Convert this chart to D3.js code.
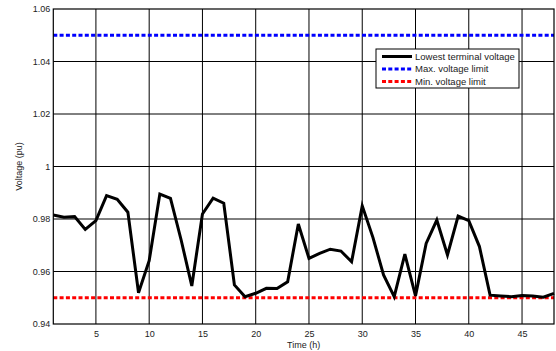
<!DOCTYPE html>
<html><head><meta charset="utf-8">
<script src="https://cdn.jsdelivr.net/npm/d3@7"></script>
<style>body{margin:0;background:#fff}svg{display:block}text{font-family:"Liberation Sans",Arial,sans-serif;fill:#222}</style>
</head><body><svg id="c" width="556" height="351"></svg>
<script>
const hours = d3.range(1, 49);
const lowestVoltage = [0.9815,0.9807,0.9809,0.9760,0.9794,0.9889,0.9875,0.9826,0.9519,0.9641,
0.9895,0.9879,0.9720,0.9545,0.9819,0.9879,0.9860,0.9549,0.9504,0.9517,
0.9536,0.9535,0.9561,0.9781,0.9650,0.9669,0.9685,0.9678,0.9637,0.9850,
0.9730,0.9587,0.9504,0.9666,0.9507,0.9707,0.9796,0.9663,0.9811,0.9794,
0.9695,0.9510,0.9507,0.9504,0.9509,0.9507,0.9502,0.9517];
const maxLimit = 1.05, minLimit = 0.95;
const xTicks = [5,10,15,20,25,30,35,40,45];
const yTicks = [0.94,0.96,0.98,1,1.02,1.04,1.06];
const legendLabels = ["Lowest terminal voltage","Max. voltage limit","Min. voltage limit"];

const svg = d3.select("#c");
const L=53.3, R=554, T=9, B=324;
const x = d3.scaleLinear().domain([1,48]).range([L,R]);
const y = d3.scaleLinear().domain([0.94,1.06]).range([B,T]);

const g = svg.append("g");
g.selectAll(".gx").data(xTicks).join("line").attr("x1",d=>x(d)).attr("x2",d=>x(d)).attr("y1",T).attr("y2",B).attr("stroke","#000").attr("stroke-width",1);
g.selectAll(".gy").data(yTicks.slice(1,-1)).join("line").attr("y1",d=>y(d)).attr("y2",d=>y(d)).attr("x1",L).attr("x2",R).attr("stroke","#000").attr("stroke-width",1);

const xa = svg.append("g").attr("transform",`translate(0,${B})`).call(d3.axisBottom(x).tickValues(xTicks).tickSize(0).tickPadding(7).tickFormat(d3.format("d")));
const ya = svg.append("g").attr("transform",`translate(${L},0)`).call(d3.axisLeft(y).tickValues(yTicks).tickSize(0).tickPadding(3).tickFormat(d=>d===1?"1":d3.format(".2f")(d)));
[xa,ya].forEach(a=>{a.select(".domain").remove();a.selectAll("text").style("font-size","9px").style("font-family","Liberation Sans, Arial, sans-serif").attr("fill","#222");});

const lim = [{v:maxLimit,c:"#0000ff"},{v:minLimit,c:"#ff0000"}];
svg.selectAll(".lim").data(lim).join("line").attr("x1",L).attr("x2",R).attr("y1",d=>y(d.v)).attr("y2",d=>y(d.v)).attr("stroke",d=>d.c).attr("stroke-width",3).attr("stroke-dasharray","4,2.3");

svg.append("path").datum(hours.map((h,i)=>[h,lowestVoltage[i]])).attr("d",d3.line().x(d=>x(d[0])).y(d=>y(d[1]))).attr("fill","none").attr("stroke","#000").attr("stroke-width",3).attr("stroke-linejoin","miter");

svg.append("rect").attr("x",L).attr("y",T).attr("width",R-L).attr("height",B-T).attr("fill","none").attr("stroke","#000").attr("stroke-width",1.2);

svg.append("text").attr("x",(L+R)/2).attr("y",348).attr("text-anchor","middle").style("font-size","9px").text("Time (h)");
svg.append("text").attr("transform",`translate(22,${(T+B)/2}) rotate(-90)`).attr("text-anchor","middle").style("font-size","9px").text("Voltage (pu)");

const lg = svg.append("g").attr("transform","translate(376,49)");
lg.append("rect").attr("width",143).attr("height",39).attr("fill","#fff").attr("stroke","#000").attr("stroke-width",1);
const styles=[{c:"#000",dash:null},{c:"#0000ff",dash:"4,2.3"},{c:"#ff0000",dash:"4,2.3"}];
legendLabels.forEach((t,i)=>{
  const yy = 7.5 + i*12.5;
  lg.append("line").attr("x1",6).attr("x2",36).attr("y1",yy).attr("y2",yy).attr("stroke",styles[i].c).attr("stroke-width",3).attr("stroke-dasharray",styles[i].dash);
  lg.append("text").attr("x",39).attr("y",yy+3.2).style("font-size","9.5px").text(t);
});
</script></body></html>
